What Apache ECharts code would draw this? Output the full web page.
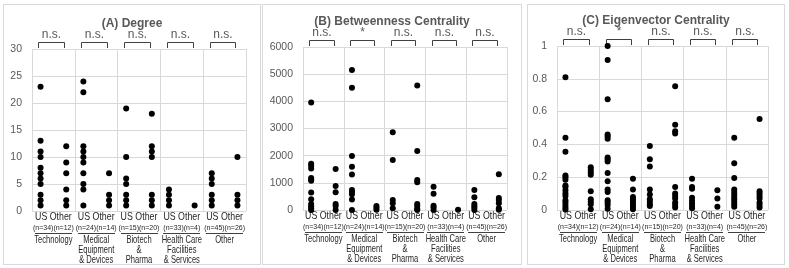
<!DOCTYPE html>
<html>
<head>
<meta charset="utf-8">
<script src="https://cdn.jsdelivr.net/npm/echarts@6/dist/echarts.min.js"></script>
<style>
    html, body { margin: 0; padding: 0; background: #fff; }
    body { width: 789px; height: 268px; position: relative; overflow: hidden; }
    .panel { position: absolute; top: 4px; height: 261px; box-sizing: border-box; border: 1px solid #d9d9d9; background: #fff; }
    .panel div.c { width: 100%; height: 100%; }
</style>
</head>
<body>
<div class="panel" style="left:3px;width:258px;"><div class="c" id="chartA"></div></div>
<div class="panel" style="left:262px;width:260px;"><div class="c" id="chartB"></div></div>
<div class="panel" style="left:527px;width:258px;"><div class="c" id="chartC"></div></div>
<script>
// categories and sample sizes
var categories = ['Technology', 'Medical\nEquipment\n& Devices', 'Biotech\n&\nPharma', 'Health Care\nFacilities\n& Services', 'Other'];
var groupLabel = 'US Other';
var nLabels = ['(n=34)(n=12)', '(n=24)(n=14)', '(n=15)(n=20)', '(n=33)(n=4)', '(n=45)(n=26)'];

// (A) Degree
var degreeUS = [
    [23, 13, 11, 10, 8, 7, 6, 5, 3, 2, 1],
    [24, 22, 12, 11, 10, 9, 7, 5, 4, 1],
    [19, 10, 6, 5, 3, 2, 1],
    [4, 3, 2, 1],
    [7, 6, 5, 3, 2, 1]
];
var degreeOther = [
    [12, 9, 7, 4, 2, 1],
    [7, 3, 2, 1],
    [18, 12, 11, 10, 3, 2, 1],
    [1],
    [10, 3, 2, 1]
];
var degreeSig = ['n.s.', 'n.s.', 'n.s.', 'n.s.', 'n.s.'];

// (B) Betweenness Centrality
var betweenUS = [
    [3960, 1700, 1630, 1530, 1180, 1120, 1080, 640, 400, 220, 140, 60, 0],
    [5150, 4500, 1990, 1590, 1310, 740, 660, 580, 390, 0],
    [2860, 1840, 370, 250, 60],
    [860, 600, 160, 100, 0],
    [740, 470, 220, 150, 80, 0]
];
var betweenOther = [
    [1510, 880, 650, 220, 150, 0],
    [150, 80, 10],
    [4580, 2170, 1100, 1020, 220, 150, 50, 0],
    [10],
    [1320, 440, 370, 250, 60, 10]
];
var betweenSig = ['n.s.', '*', 'n.s.', 'n.s.', 'n.s.'];

// (C) Eigenvector Centrality
var eigenUS = [
    [0.81, 0.44, 0.355, 0.21, 0.2, 0.185, 0.15, 0.14, 0.12, 0.1, 0.085, 0.06, 0.045, 0.03, 0.015, 0.003],
    [1.0, 0.915, 0.675, 0.46, 0.45, 0.435, 0.32, 0.31, 0.295, 0.225, 0.175, 0.125, 0.11, 0.06, 0.045, 0.03, 0.008],
    [0.39, 0.31, 0.265, 0.125, 0.095, 0.065, 0.05, 0.035, 0.025],
    [0.19, 0.14, 0.13, 0.075, 0.057, 0.04, 0.025, 0.01],
    [0.44, 0.285, 0.195, 0.125, 0.11, 0.095, 0.08, 0.065, 0.05, 0.035, 0.02]
];
var eigenOther = [
    [0.26, 0.245, 0.23, 0.215, 0.115, 0.065, 0.05, 0.035, 0.005],
    [0.19, 0.125, 0.08, 0.065, 0.05, 0.035, 0.02, 0.005],
    [0.755, 0.52, 0.48, 0.467, 0.14, 0.1, 0.085, 0.07, 0.045, 0.03, 0.015],
    [0.12, 0.07, 0.02],
    [0.555, 0.115, 0.1, 0.085, 0.07, 0.045, 0.03, 0.015]
];
var eigenSig = ['n.s.', '*', 'n.s.', 'n.s.', 'n.s.'];

var SANS = "'Liberation Sans', Arial, sans-serif";

// each category takes 2 units on the x scale: US sits at 0.4, Other at 1.6
function toPoints(groups, offset) {
    var pts = [];
    groups.forEach(function (vals, k) {
        vals.forEach(function (v) {
            pts.push([2 * k + offset, v]);
        });
    });
    return pts;
}

function initPanel(domId, title, values1, values2, sig, yMax, yInterval, grid) {
    var myChart = echarts.init(document.getElementById(domId));

    // brackets + significance on top, group labels below each category cell
    function renderCat(params, api) {
        var k = api.value(0);
        var yTop = api.coord([0, yMax])[1];
        var yBot = api.coord([0, 0])[1];
        var cx = api.coord([2 * k + 1, 0])[0];
        var xa = Math.round(api.coord([2 * k + 0.3, yMax])[0]) + 0.5;
        var xb = Math.round(api.coord([2 * k + 1.5, yMax])[0]) + 0.5;
        var yb = Math.round(yTop - 7) + 0.5;
        return {
            type: 'group',
            children: [
                {
                    type: 'polyline',
                    shape: { points: [[xa, yTop - 1], [xa, yb], [xb, yb], [xb, yTop - 1]] },
                    style: { stroke: '#404040', lineWidth: 1, fill: null }
                },
                {
                    type: 'text', x: (xa + xb) / 2, y: yTop - 8,
                    style: {
                        text: sig[k], textAlign: 'center', textVerticalAlign: 'bottom',
                        fill: '#595959', fontSize: 12, fontFamily: SANS
                    }
                },
                {
                    type: 'text', x: cx, y: yBot + 0.5, scaleX: 0.84,
                    style: {
                        text: groupLabel, textAlign: 'center', textVerticalAlign: 'top',
                        fill: '#262626', fontSize: 10.5, lineHeight: 12, fontFamily: SANS
                    }
                },
                {
                    type: 'text', x: cx, y: yBot + 12.5,
                    style: {
                        text: nLabels[k], textAlign: 'center', textVerticalAlign: 'top',
                        fill: '#262626', fontSize: 7, lineHeight: 9, fontFamily: SANS
                    }
                },
                {
                    type: 'rect',
                    shape: { x: Math.round(cx - 18.5), y: Math.round(yBot + 22), width: 37, height: 1 },
                    style: { fill: '#404040' }
                },
                {
                    type: 'text', x: cx, y: yBot + 24, scaleX: 0.72,
                    style: {
                        text: categories[k], textAlign: 'center', textVerticalAlign: 'top',
                        fill: '#262626', fontSize: 10.5, lineHeight: 10, fontFamily: SANS
                    }
                }
            ]
        };
    }

    var option = {
        backgroundColor: '#fff',
        animation: false,
        title: {
            text: title,
            left: 'center',
            top: grid.titleTop,
            textStyle: { fontSize: 12, fontWeight: 'bold', color: '#595959', fontFamily: SANS }
        },
        grid: { left: grid.left, right: grid.right, top: grid.top, bottom: grid.bottom },
        xAxis: {
            type: 'value', min: 0, max: 10, interval: 2,
            axisLabel: { show: false }, axisLine: { show: false }, axisTick: { show: false },
            splitLine: { show: true, lineStyle: { color: '#d9d9d9', width: 1 } }
        },
        yAxis: {
            type: 'value', min: 0, max: yMax, interval: yInterval,
            axisLine: { show: false }, axisTick: { show: false },
            axisLabel: {
                color: '#595959', fontSize: 10.5, margin: 10, fontFamily: SANS,
                formatter: function (v) { return String(v); }
            },
            splitLine: { show: true, lineStyle: { color: '#d9d9d9', width: 1 } }
        },
        series: [
            {
                type: 'scatter', name: 'US', symbolSize: 6,
                itemStyle: { color: '#000', opacity: 1 }, data: toPoints(values1, 0.4)
            },
            {
                type: 'scatter', name: 'Other', symbolSize: 6,
                itemStyle: { color: '#000', opacity: 1 }, data: toPoints(values2, 1.6)
            },
            {
                type: 'custom', name: 'labels', silent: true, clip: false,
                data: categories.map(function (c, i) { return [i, 0]; }),
                renderItem: renderCat
            }
        ]
    };
    myChart.setOption(option);
}

initPanel('chartA', '(A) Degree', degreeUS, degreeOther, degreeSig, 30, 5,
    { left: 28, right: 14, top: 44, bottom: 53, titleTop: 8 });
initPanel('chartB', '(B) Betweenness Centrality', betweenUS, betweenOther, betweenSig, 6000, 1000,
    { left: 40, right: 14, top: 42, bottom: 54, titleTop: 6 });
initPanel('chartC', '(C) Eigenvector Centrality', eigenUS, eigenOther, eigenSig, 1, 0.2,
    { left: 29, right: 16, top: 41, bottom: 54, titleTop: 5 });
</script>
</body>
</html>
